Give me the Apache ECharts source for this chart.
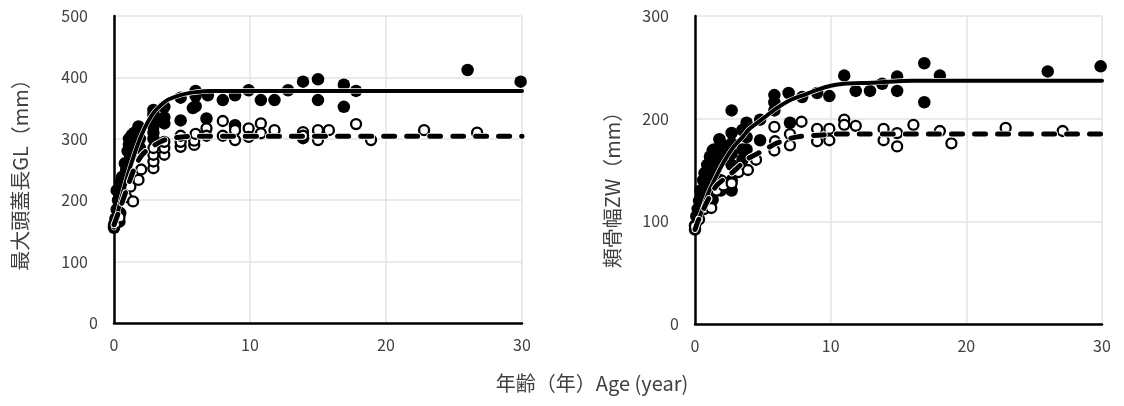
<!DOCTYPE html>
<html><head><meta charset="utf-8">
<script src="https://cdn.jsdelivr.net/npm/echarts@6/dist/echarts.min.js"></script>
<style>html,body{margin:0;padding:0;background:#fff}#c{width:1124px;height:406px}</style>
</head><body><div id="c"></div>
<script>
// ---- data ----
const xTicks = [0, 10, 20, 30];
const glTicks = [0, 100, 200, 300, 400, 500];
const zwTicks = [0, 100, 200, 300];
const xTitle = '年齢（年）Age (year)';
const glTitle = '最大頭蓋長GL（mm）';
const zwTitle = '頬骨幅ZW（mm）';

// GL (left) – filled circles
const glFilled = [[0,155],[0,160],[0.1,170],[0.2,185],[0.2,216],[0.3,200],[0.4,165],[0.46,179],[0.5,230],[0.6,238],[0.8,260],[0.9,250],[1.0,280],[1.1,290],[1.1,300],[1.2,271],[1.3,306],[1.5,310],[1.6,295],[1.8,320],[1.9,300],[1.9,285],
[2.9,347],[2.9,340],[2.9,330],[2.9,320],[2.9,310],[2.9,300],[3.7,352],[3.7,335],[3.7,325],[4.9,367],[4.9,330],[5.8,350],[6.0,378],[6.0,370],[6.0,353],[6.8,333],[6.9,371],[8.0,363],[8.9,371],[8.9,322],[9.9,379],[10.8,363],[11.8,363],[12.8,379],[13.9,393],[13.9,301],[15.0,397],[15.0,363],[16.9,388],[16.9,352],[17.8,378],[26.0,412],[29.9,393]];
// GL (left) – open circles
const glOpen = [[0.1,162],[0.4,172],[0.9,205],[1.2,222],[1.4,198],[1.8,233],[2.0,250],[2.9,252],[2.9,263],[2.9,274],[2.9,285],[3.7,274],[3.7,285],[3.7,295],[4.9,287],[4.9,295],[4.9,305],[5.9,290],[5.9,297],[6.0,308],[6.8,317],[6.8,305],[8.0,329],[8.0,305],[8.9,298],[8.9,314],[9.9,317],[9.9,303],[10.8,325],[10.8,309],[11.8,314],[13.9,311],[13.9,305],[15.0,314],[15.0,298],[15.8,314],[17.8,324],[18.9,298],[22.8,314],[26.7,310]];
// GL fitted curves
const glFitSolid = [[0,155],[0.5,200],[1,240],[1.5,275],[2,305],[2.5,328],[3,345],[3.5,356],[4,364],[5,372],[6,376],[7,378],[30,378]];
const glFitDash = [[0,160],[0.5,190],[1,222],[1.5,252],[2,272],[2.5,283],[3,290],[3.5,296],[4,300],[5,303],[6,304],[30,304]];

// ZW (right) – filled circles
const zwFilled = [[0,92],[0,96],[0.1,105],[0.2,112],[0.3,120],[0.4,130],[0.5,118],[0.6,140],[0.7,147],[0.8,135],[0.9,155],[1.0,150],[1.1,163],[1.2,145],[1.3,121],[1.3,130],[1.3,158],[1.3,169],[1.4,170],[1.5,150],[1.6,165],[1.8,180],[1.9,176],[1.9,130],[1.9,140],[2.0,160],[2.0,170],
[2.7,208],[2.7,186],[2.7,176],[2.7,166],[2.7,155],[2.7,140],[2.7,130],[3.5,160],[3.5,170],[3.5,189],[3.8,196],[3.8,182],[3.8,170],[4.8,199],[4.8,179],[5.85,223],[5.85,216],[5.85,208],[6.9,225],[7.0,196],[7.9,221],[9.0,225],[9.9,222],[11.0,242],[11.85,227],[12.9,227],[13.8,234],[14.9,241],[14.9,227],[16.9,254],[16.9,216],[18.05,242],[26.0,246],[29.9,251]];
// ZW (right) – open circles
const zwOpen = [[0,95],[0.3,102],[0.7,112],[1.0,122],[1.2,113],[1.6,130],[2.1,135],[2.7,137],[3.2,148],[3.9,150],[4.5,160],[5.85,169],[5.85,192],[5.9,178],[7.0,174],[7.0,185],[7.85,197],[9.0,178],[9.0,190],[9.9,179],[9.9,190],[11.0,199],[11.0,194],[11.85,193],[13.9,190],[13.9,179],[14.9,186],[14.9,173],[16.1,194],[18.05,188],[18.9,176],[22.9,191],[27.1,188]];
// ZW fitted curves
const zwFitSolid = [[0,92],[0.5,110],[1,128],[1.5,142],[2,155],[2.5,166],[3,175],[3.5,182],[4,190],[5,200],[6,210],[7,218],[8,223],[9,228],[10,232],[11,234],[13,235],[16,237],[30,237]];
const zwFitDash = [[0,92],[0.25,101],[1,122],[1.6,135],[2.7,147],[3.9,161],[4.9,168],[6,176],[7.1,181],[8,183],[9.3,184],[10,185],[30,185]];

// ---- chart ----
const FONT = '"Noto Sans CJK JP", "Noto Sans", sans-serif';
const TXT = '#404040';
const grids = [
  {left: 114, width: 408, top: 16, height: 307},
  {left: 695, width: 407, top: 16, height: 308}
];
function xAx(i){
  return {type:'value', gridIndex:i, min:xTicks[0], max:xTicks[xTicks.length-1], interval:10,
    axisLine:{show:true, onZero:false, lineStyle:{color:'#000', width:2.5}},
    axisTick:{show:false},
    axisLabel:{color:TXT, fontSize:16, fontFamily:FONT, margin:14},
    splitLine:{show:true, lineStyle:{color:'#e3e3e3', width:1.5}}};
}
function yAx(i, ticks){
  return {type:'value', gridIndex:i, min:ticks[0], max:ticks[ticks.length-1], interval:100,
    axisLine:{show:true, onZero:false, lineStyle:{color:'#000', width:2.5}},
    axisTick:{show:false},
    axisLabel:{color:TXT, fontSize:16, fontFamily:FONT, margin:16,
      formatter: v => v === 0 ? '{z|0}' : '{a|' + v + '}',
      rich:{a:{color:TXT, fontSize:16, fontFamily:FONT, padding:[0,10,0,0]}, z:{color:TXT, fontSize:16, fontFamily:FONT}}},
    splitLine:{show:true, lineStyle:{color:'#e3e3e3', width:1.5}}};
}
function scatterFilled(i, d){
  return {type:'scatter', xAxisIndex:i, yAxisIndex:i, data:d, symbolSize:12.5, clip:false,
    itemStyle:{color:'#000', opacity:1}, z:2};
}
function scatterOpen(i, d){
  return {type:'scatter', xAxisIndex:i, yAxisIndex:i, data:d, symbolSize:10, clip:false,
    itemStyle:{color:'#fff', borderColor:'#000', borderWidth:2.3, opacity:1}, z:3};
}
function lineSeries(i, d, dashed, white){
  const w = white ? (dashed ? 6.8 : 5.2) : (dashed ? 5 : 4);
  return {type:'line', xAxisIndex:i, yAxisIndex:i, data:d, smooth:0.25, showSymbol:false, clip:false,
    silent:true, z: dashed ? (white ? 6 : 7) : (white ? 4 : 5),
    lineStyle:{color: white ? '#fff' : '#000', width:w, opacity:1,
      type: dashed ? [11,12] : 'solid', cap:'round', join:'round'}};
}
const chart = echarts.init(document.getElementById('c'), null, {renderer:'canvas'});
chart.setOption({
  animation:false,
  backgroundColor:'#fff',
  grid: grids,
  xAxis:[xAx(0), xAx(1)],
  yAxis:[yAx(0, glTicks), yAx(1, zwTicks)],
  series:[
    scatterFilled(0, glFilled), scatterOpen(0, glOpen),
    lineSeries(0, glFitSolid, false, true), lineSeries(0, glFitSolid, false, false),
    lineSeries(0, glFitDash, true, true), lineSeries(0, glFitDash, true, false),
    scatterFilled(1, zwFilled), scatterOpen(1, zwOpen),
    lineSeries(1, zwFitSolid, false, true), lineSeries(1, zwFitSolid, false, false),
    lineSeries(1, zwFitDash, true, true), lineSeries(1, zwFitDash, true, false)
  ],
  graphic:[
    {type:'text', x:20, y:170, rotation:Math.PI/2,
      style:{text:glTitle, fill:TXT, font:'20px ' + FONT, textAlign:'center', textVerticalAlign:'middle'}},
    {type:'text', x:612, y:185, rotation:Math.PI/2,
      style:{text:zwTitle, fill:TXT, font:'20px ' + FONT, textAlign:'center', textVerticalAlign:'middle'}},
    {type:'text', x:592, y:383,
      style:{text:xTitle, fill:TXT, font:'20px ' + FONT, textAlign:'center', textVerticalAlign:'middle'}}
  ]
});
</script></body></html>
